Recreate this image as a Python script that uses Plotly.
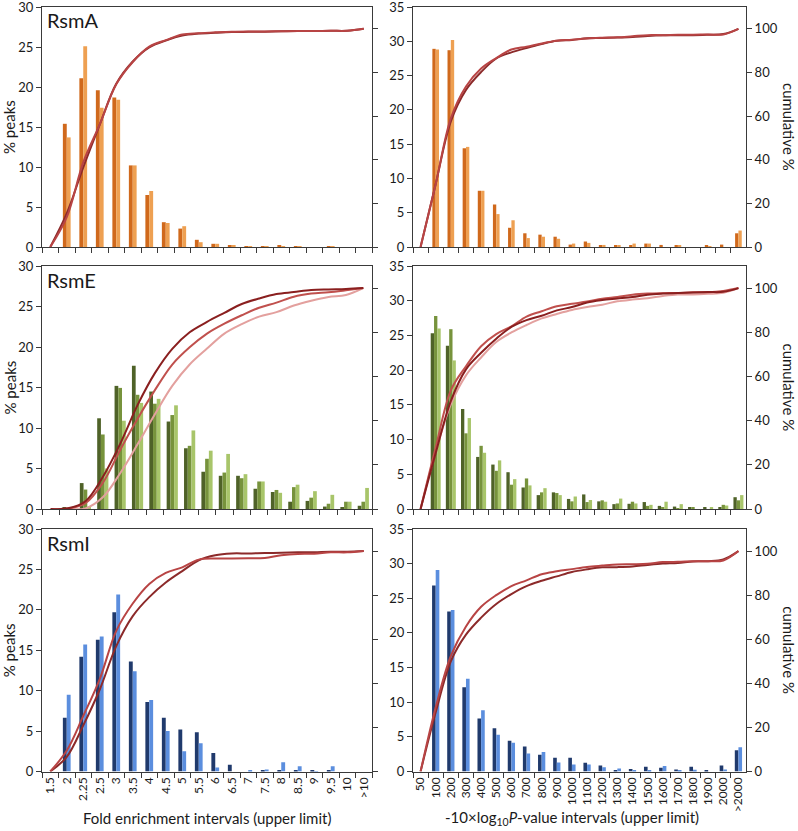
import plotly.graph_objects as go

W, H = 798, 831

# category labels
fe_cats = ['1.5', '2', '2.25', '2.5', '3', '3.5', '4', '4.5', '5', '5.5',
           '6', '6.5', '7', '7.5', '8', '8.5', '9', '9.5', '10', '>10']
# the RsmE fold-enrichment chart has one interval less (labels not shown)
fe_cats_e = ['1.5', '2', '2.5', '3', '3.5', '4', '4.5', '5', '5.5',
             '6', '6.5', '7', '7.5', '8', '8.5', '9', '9.5', '10', '>10']
pv_cats = ['50', '100', '200', '300', '400', '500', '600', '700', '800', '900',
           '1000', '1100', '1200', '1300', '1400', '1500', '1600', '1700',
           '1800', '1900', '2000', '>2000']

# RsmA -- fold enrichment (% peaks) and cumulative %
rsma_fe_a = [0, 15.4, 21.1, 19.6, 18.7, 10.2, 6.5, 3.1, 2.3, 0.9,
             0.4, 0.25, 0.1, 0.05, 0.25, 0.05, 0, 0.1, 0, 0]
rsma_fe_b = [0, 13.7, 25.1, 17.4, 18.4, 10.2, 7.0, 3.0, 2.6, 0.6,
             0.4, 0.25, 0.1, 0.05, 0.1, 0.05, 0, 0.05, 0, 0]
rsma_fe_cum_a = [0, 15.4, 36.5, 56.1, 74.8, 85.0, 91.5, 94.6, 96.9, 97.8,
                 98.2, 98.5, 98.6, 98.7, 98.9, 99.0, 99.0, 99.1, 99.1, 100]
rsma_fe_cum_b = [0, 13.7, 38.8, 56.2, 74.6, 84.8, 91.8, 94.8, 97.4, 98.0,
                 98.4, 98.7, 98.8, 98.8, 98.9, 99.0, 99.0, 99.1, 99.1, 100]

# RsmA -- P-value
rsma_pv_a = [0, 28.9, 28.7, 14.4, 8.2, 6.2, 2.8, 2.0, 1.8, 1.5, 0.35,
             0.8, 0.15, 0.2, 0.15, 0.5, 0.3, 0.15, 0, 0.15, 0.35, 2.0]
rsma_pv_b = [0, 28.8, 30.2, 14.6, 8.2, 4.8, 3.9, 1.3, 1.5, 1.2, 0.5,
             0.6, 0.3, 0.2, 0.5, 0.5, 0, 0.15, 0, 0.1, 0, 2.4]
rsma_pv_cum_a = [0, 28.9, 57.6, 72.0, 80.2, 86.4, 89.2, 91.2, 93.0, 94.5, 94.9,
                 95.7, 95.8, 96.0, 96.2, 96.7, 97.0, 97.1, 97.1, 97.3, 97.6, 100]
rsma_pv_cum_b = [0, 28.8, 59.0, 73.6, 81.8, 86.6, 90.5, 91.8, 93.3, 94.5, 95.0,
                 95.6, 95.9, 96.1, 96.6, 97.1, 97.1, 97.3, 97.3, 97.4, 97.4, 100]

# RsmE -- fold enrichment
rsme_fe_a = [0, 0.2, 3.2, 11.2, 15.2, 17.7, 14.5, 10.8, 7.5, 4.6,
             4.1, 4.1, 2.5, 2.1, 0.9, 1.0, 0.3, 0.2, 0.4]
rsme_fe_b = [0, 0.1, 2.4, 9.2, 14.95, 14.1, 13.0, 11.6, 7.8, 6.2,
             4.5, 3.8, 3.4, 2.35, 2.7, 1.4, 0.65, 0.9, 0.9]
rsme_fe_c = [0, 0, 0.3, 5.0, 10.9, 13.1, 13.6, 12.8, 9.7, 7.2,
             6.8, 4.3, 3.4, 2.0, 3.0, 2.2, 1.75, 0.9, 2.6]
rsme_fe_cum_a = [0, 0.3, 3.5, 14.5, 29.5, 47.0, 61.5, 72.5, 80.0, 84.7,
                 88.8, 92.8, 95.3, 97.3, 98.2, 99.1, 99.4, 99.6, 100]
rsme_fe_cum_b = [0, 0.2, 2.6, 11.8, 26.7, 40.8, 53.8, 65.4, 73.2, 79.4,
                 83.9, 87.7, 91.1, 93.4, 96.1, 97.5, 98.1, 99.0, 100]
rsme_fe_cum_c = [0, 0, 0.3, 5.3, 16.2, 29.3, 42.9, 55.7, 65.4, 72.6,
                 79.4, 83.7, 87.1, 89.1, 92.1, 94.3, 96.0, 96.9, 100]

# RsmE -- P-value
rsme_pv_a = [0, 25.3, 23.5, 14.4, 7.5, 6.4, 5.3, 3.1, 2.0, 2.4, 1.45,
             2.1, 1.1, 0.7, 0.75, 1.0, 0.45, 0.35, 0.15, 0.2, 0.15, 1.7]
rsme_pv_b = [0, 27.8, 25.9, 10.9, 9.1, 5.5, 3.5, 4.4, 2.4, 2.3, 1.1,
             1.0, 1.25, 0.8, 1.05, 0.45, 0.25, 0.1, 0.25, 0, 0.6, 1.25]
rsme_pv_c = [0, 26.0, 21.4, 13.1, 8.1, 7.0, 4.3, 3.4, 3.0, 2.0, 1.8,
             1.3, 1.05, 1.5, 0.8, 0.6, 1.05, 0.7, 0, 0.25, 0.5, 2.0]
rsme_pv_cum_a = [0, 25.3, 48.8, 63.2, 70.7, 77.1, 82.4, 85.5, 87.5, 89.9, 91.4,
                 93.5, 94.6, 95.3, 96.0, 97.0, 97.5, 97.8, 98.0, 98.2, 98.3, 100]
rsme_pv_cum_b = [0, 27.8, 53.7, 64.6, 73.7, 79.2, 82.7, 87.1, 89.5, 91.8, 92.9,
                 93.9, 95.2, 96.0, 97.0, 97.5, 97.7, 97.8, 98.1, 98.1, 98.7, 100]
rsme_pv_cum_c = [0, 26.0, 47.4, 60.5, 68.6, 75.6, 79.9, 83.3, 86.3, 88.3, 90.1,
                 91.4, 92.5, 94.0, 94.8, 95.4, 96.4, 97.1, 97.1, 97.4, 97.9, 100]

# RsmI -- fold enrichment
rsmi_fe_a = [0, 6.65, 14.2, 16.3, 19.7, 13.6, 8.6, 6.65, 5.2, 4.85,
             2.3, 0.85, 0, 0.15, 0.15, 0.15, 0.15, 0.15, 0, 0]
rsmi_fe_b = [0, 9.5, 15.7, 16.7, 21.9, 12.4, 8.85, 5.0, 2.5, 3.5,
             0.5, 0, 0.1, 0.25, 1.15, 0.65, 0.05, 0.65, 0, 0]
rsmi_fe_cum_a = [0, 6.65, 20.9, 37.2, 56.9, 70.5, 79.1, 85.7, 90.9, 95.8,
                 98.1, 98.9, 98.9, 99.1, 99.2, 99.4, 99.5, 99.7, 99.7, 100]
rsmi_fe_cum_b = [0, 9.5, 25.2, 41.9, 63.8, 76.2, 85.1, 90.1, 92.6, 96.1,
                 96.6, 96.6, 96.7, 96.9, 98.1, 98.7, 98.8, 99.4, 99.4, 100]

# RsmI -- P-value
rsmi_pv_a = [0, 26.85, 23.1, 12.15, 7.65, 6.25, 4.45, 3.6, 2.4, 2.0, 2.0,
             1.25, 0.85, 0.1, 0.35, 0.7, 0.55, 0.3, 0.7, 0.1, 0.85, 3.05]
rsmi_pv_b = [0, 29.1, 23.3, 13.4, 8.85, 5.3, 4.15, 2.6, 2.8, 1.3, 1.0,
             1.0, 0.6, 0.45, 0.15, 0.15, 0.8, 0.15, 0.25, 0, 0.3, 3.5]
rsmi_pv_cum_a = [0, 26.85, 50.0, 62.1, 69.8, 76.0, 80.5, 84.1, 86.5, 88.5, 90.5,
                 91.7, 92.6, 92.7, 93.0, 93.7, 94.3, 94.6, 95.3, 95.4, 96.2, 100]
rsmi_pv_cum_b = [0, 29.1, 52.4, 65.8, 74.7, 80.0, 84.1, 86.7, 89.5, 90.8, 91.8,
                 92.8, 93.4, 93.9, 94.0, 94.2, 95.0, 95.1, 95.4, 95.4, 95.7, 100]

ORANGE = ['#d0691c', '#eea052']
GREEN = ['#4f6228', '#77933c', '#a8c56a']
BLUE = ['#203a6c', '#5b8ede']
RED2 = ['#8c2a2a', '#b84444']
RED3 = ['#8a1f1f', '#c0504d', '#e3a09e']

panels = [
    dict(cats=fe_cats, ymax=30, label='RsmA', w=0.235,
         bars=list(zip([rsma_fe_a, rsma_fe_b], ORANGE)),
         lines=list(zip([rsma_fe_cum_a, rsma_fe_cum_b], RED2))),
    dict(cats=pv_cats, ymax=35, w=0.22,
         bars=list(zip([rsma_pv_a, rsma_pv_b], ORANGE)),
         lines=list(zip([rsma_pv_cum_a, rsma_pv_cum_b], RED2))),
    dict(cats=fe_cats_e, ymax=30, label='RsmE', w=0.215,
         bars=list(zip([rsme_fe_a, rsme_fe_b, rsme_fe_c], GREEN)),
         lines=list(zip([rsme_fe_cum_c, rsme_fe_cum_b, rsme_fe_cum_a], RED3[::-1]))),
    dict(cats=pv_cats, ymax=35, w=0.22,
         bars=list(zip([rsme_pv_a, rsme_pv_b, rsme_pv_c], GREEN)),
         lines=list(zip([rsme_pv_cum_c, rsme_pv_cum_b, rsme_pv_cum_a], RED3[::-1]))),
    dict(cats=fe_cats, ymax=30, label='RsmI', w=0.235,
         bars=list(zip([rsmi_fe_a, rsmi_fe_b], BLUE)),
         lines=list(zip([rsmi_fe_cum_a, rsmi_fe_cum_b], RED2))),
    dict(cats=pv_cats, ymax=35, w=0.24,
         bars=list(zip([rsmi_pv_a, rsmi_pv_b], BLUE)),
         lines=list(zip([rsmi_pv_cum_a, rsmi_pv_cum_b], RED2))),
]

FONT = 'Lato'
AXIS = '#3a3a3a'
TXT = '#1a1a1a'

col_px = [(42, 372), (413, 746)]
row_px = [(7, 247), (266, 509), (529, 771.5)]


def px(x):
    return x / W


def py(y):
    return 1 - y / H


fig = go.Figure()
layout = {}
annotations = []

for k, p in enumerate(panels):
    row, col = divmod(k, 2)
    xn = '' if k == 0 else str(k + 1)
    yn1 = '' if k == 0 else str(2 * k + 1)
    yn2 = str(2 * k + 2)
    xref, yref1, yref2 = 'x' + xn, 'y' + yn1, 'y' + yn2

    nb = len(p['bars'])
    w = p['w']
    for j, (vals, color) in enumerate(p['bars']):
        fig.add_trace(go.Bar(
            x=p['cats'], y=vals, xaxis=xref, yaxis=yref1,
            marker=dict(color=color, line_width=0),
            width=w, offset=-nb * w / 2 + j * w,
            showlegend=False, hoverinfo='skip',
        ))
    for vals, color in p['lines']:
        fig.add_trace(go.Scatter(
            x=p['cats'], y=vals, xaxis=xref, yaxis=yref2, mode='lines',
            line=dict(color=color, width=2, shape='spline', smoothing=1),
            showlegend=False, hoverinfo='skip',
        ))

    x0, x1 = col_px[col]
    y0, y1 = row_px[row]
    layout['xaxis' + xn] = dict(
        domain=[px(x0), px(x1)], anchor=yref1, type='category',
        categoryorder='array', categoryarray=p['cats'],
        range=[-0.5, len(p['cats']) - 0.5], automargin=False,
        tickson='boundaries', ticks='outside', ticklen=5, tickcolor=AXIS,
        showline=True, linecolor=AXIS, linewidth=1, mirror=True,
        showgrid=False, showticklabels=(row == 2), tickangle=-90,
        ticklabeloverflow='allow',
        tickfont=dict(family=FONT, size=12, color=TXT),
    )
    layout['yaxis' + yn1] = dict(
        domain=[py(y1), py(y0)], anchor=xref, range=[0, p['ymax']],
        automargin=False, ticklabeloverflow='allow',
        dtick=5, ticks='outside', ticklen=5, tickcolor=AXIS,
        showline=True, linecolor=AXIS, linewidth=1,
        showgrid=False, zeroline=False,
        tickfont=dict(family=FONT, size=13, color=TXT),
    )
    layout['yaxis' + yn2] = dict(
        overlaying=yref1, anchor=xref, side='right', range=[0, 110],
        automargin=False, ticklabeloverflow='allow',
        tickvals=[0, 20, 40, 60, 80, 100], ticks='outside', ticklen=5,
        tickcolor=AXIS, showline=True, linecolor=AXIS, linewidth=1,
        showgrid=False, zeroline=False, showticklabels=(col == 1),
        tickfont=dict(family=FONT, size=13, color=TXT),
    )

    ymid = py((y0 + y1) / 2)
    if col == 0:
        annotations.append(dict(
            text=p['label'], x=px(45), y=py(y0 + 13.5), xref='paper', yref='paper',
            xanchor='left', yanchor='middle', showarrow=False,
            font=dict(family=FONT, size=20, color=TXT)))
        annotations.append(dict(
            text='% peaks', x=px(9), y=ymid, xref='paper', yref='paper',
            textangle=-90, xanchor='center', yanchor='middle', showarrow=False,
            font=dict(family=FONT, size=15, color=TXT)))
    else:
        annotations.append(dict(
            text='cumulative %', x=px(789), y=ymid, xref='paper', yref='paper',
            textangle=90, xanchor='center', yanchor='middle', showarrow=False,
            font=dict(family=FONT, size=15, color=TXT)))

annotations.append(dict(
    text='Fold enrichment intervals (upper limit)', x=px(207), y=py(818),
    xref='paper', yref='paper', xanchor='center', yanchor='middle',
    showarrow=False, font=dict(family=FONT, size=15, color=TXT)))
annotations.append(dict(
    text='-10×log<sub>10</sub><i>P</i>-value intervals (upper limit)',
    x=px(572), y=py(818), xref='paper', yref='paper', xanchor='center',
    yanchor='middle', showarrow=False, font=dict(family=FONT, size=15, color=TXT)))

fig.update_layout(
    width=W, height=H,
    margin=dict(l=0, r=0, t=0, b=0, autoexpand=False),
    paper_bgcolor='white', plot_bgcolor='white',
    barmode='overlay',
    annotations=annotations,
    **layout,
)

# the page body has a default 8px margin; drop it so the figure fills the window
fig.write_html('out.html', config={'displayModeBar': False},
               post_script="document.body.style.margin='0px';")
